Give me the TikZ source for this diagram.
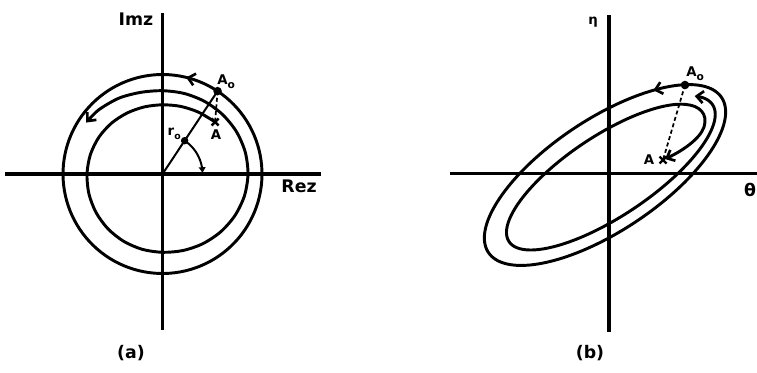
\documentclass[tikz,border=0pt]{standalone}
\usepackage{fontspec}
\setmainfont{DejaVu Sans}
\usetikzlibrary{arrows.meta,decorations.markings,calc}
\tikzset{
  curve/.style={line width=2.2pt, line join=round},
  axisline/.style={line width=2.7pt},
  thinline/.style={line width=1.5pt},
  dashline/.style={line width=1.3pt, dash pattern=on 3pt off 2pt},
  lbl/.style={font=\bfseries\fontsize{13}{15}\selectfont, inner sep=0pt},
  sml/.style={font=\bfseries\fontsize{10}{11}\selectfont, inner sep=0pt},
  midarrow/.style={postaction={decorate}, decoration={markings, mark=at position #1 with {\arrow{Straight Barb[length=5pt,width=9pt,line width=2pt]}}}},
  >={Straight Barb[length=5pt,width=9pt,line width=2pt]}
}
\newcommand{\xmark}[1]{\draw[line width=1.8pt] ($(#1)+(-3.5,-3.5)$) -- ($(#1)+(3.5,3.5)$) ($(#1)+(-3.5,3.5)$) -- ($(#1)+(3.5,-3.5)$);}
\begin{document}
\begin{tikzpicture}[x=0.75pt,y=-0.75pt]
\useasboundingbox (0,0) rectangle (757,372);
% ---------------- panel (a)
\draw[axisline] (162.5,13) -- (162.5,330);
\draw[axisline] (5,174) -- (321,174);
\begin{scope}[shift={(162.5,174)}]
  \coordinate (Oa) at (0,0);
  \coordinate (A0a) at (-56.4:99.5);
  \coordinate (Aa) at (-44.7:74);
  \coordinate (Ra) at (-56.4:40);
  % outer circle
  \draw[curve, midarrow=0.055] plot[domain=-56.4:-416.4, samples=120] (\x:99.5) -- cycle;
  % spiral
  \draw[curve, ->] plot[smooth] coordinates {(-44.7:74) (-60:71.5) (-75:70) (-90:69.2) (-105:69.5) (-120:70.5) (-135:72) (-150:73.5) (-165:74.7) (-180:75.5) (-195:76.2) (-210:76.8) (-225:77.3) (-240:77.7) (-255:78) (-270:78.3) (-285:79.2) (-300:80.5) (-315:82) (-330:83.5) (-345:84.8) (-360:85.5) (-375:85.6) (-390:85.2) (-405:84.5) (-420:83.9) (-435:83.4) (-450:83.3) (-465:84.5) (-480:87.5) (-495:90.5) (-506:92)};
  % radial line
  \draw[thinline] (Oa) -- (A0a);
  \draw[dashline] (A0a) -- (Aa);
  % angle arc
  \draw[thinline, -{Triangle[length=4pt,width=5pt]}] plot[domain=-56.4:-2, samples=30] (\x:40);
  \fill (A0a) circle[radius=3.2pt];
  \fill (Ra) circle[radius=2.8pt];
  \xmark{Aa}
\end{scope}
\node[lbl] (imz) at (136,19) {Imz};
\node[lbl] (rez) at (299,186.5) {Rez};
\node[sml, anchor=west] (a0a) at (217,82) {A\raisebox{-0.3em}{\fontsize{8}{8}\selectfont o}};
\node[sml] (aa) at (216,134.5) {A};
\node[sml, anchor=east] (r0) at (181,134) {r\raisebox{-0.3em}{\fontsize{7}{7}\selectfont o}};
\node[lbl] (capa) at (131,353) {(a)};
% ---------------- panel (b)
\draw[axisline] (609,15) -- (609,332);
\draw[axisline] (450,173.5) -- (757,173.5);
\coordinate (A0b) at (685,85);
\coordinate (Ab) at (663,160);
% outer ellipse, counterclockwise from A0
\draw[curve, midarrow=0.05] plot[domain=33.5:393.5, samples=160]
  ({605 + 140*cos(\x)*0.8329 - 56*sin(\x)*0.5534}, {175 - (140*cos(\x)*0.5534 + 56*sin(\x)*0.8329)}) -- cycle;
% inner spiral
\draw[curve, <->] plot[domain=24:-336, samples=160]
  ({608 + (0.93+0.11*(\x+336)/360)*(122*cos(\x)*0.8329 - 42*sin(\x)*0.5534)},
   {175 - (0.93+0.11*(\x+336)/360)*(122*cos(\x)*0.5534 + 42*sin(\x)*0.8329)})
  .. controls (700,105.6) and (708,114) .. (704,127)
  .. controls (700,139) and (682,151) .. (665,159);
\draw[dashline] (A0b) -- (Ab);
\fill (A0b) circle[radius=3.2pt];
\xmark{Ab}
\node[sml, anchor=west] (a0b) at (686,74) {A\raisebox{-0.3em}{\fontsize{8}{8}\selectfont o}};
\node[sml] (ab) at (649,160) {A};
\node[font=\bfseries\fontsize{10}{10}\selectfont, inner sep=0pt] (eta) at (593,22) {η};
\node[font=\bfseries\fontsize{13}{13}\selectfont, inner sep=0pt] (theta) at (750,190) {θ};
\node[lbl] (capb) at (590,353) {(b)};
\end{tikzpicture}
\end{document}
